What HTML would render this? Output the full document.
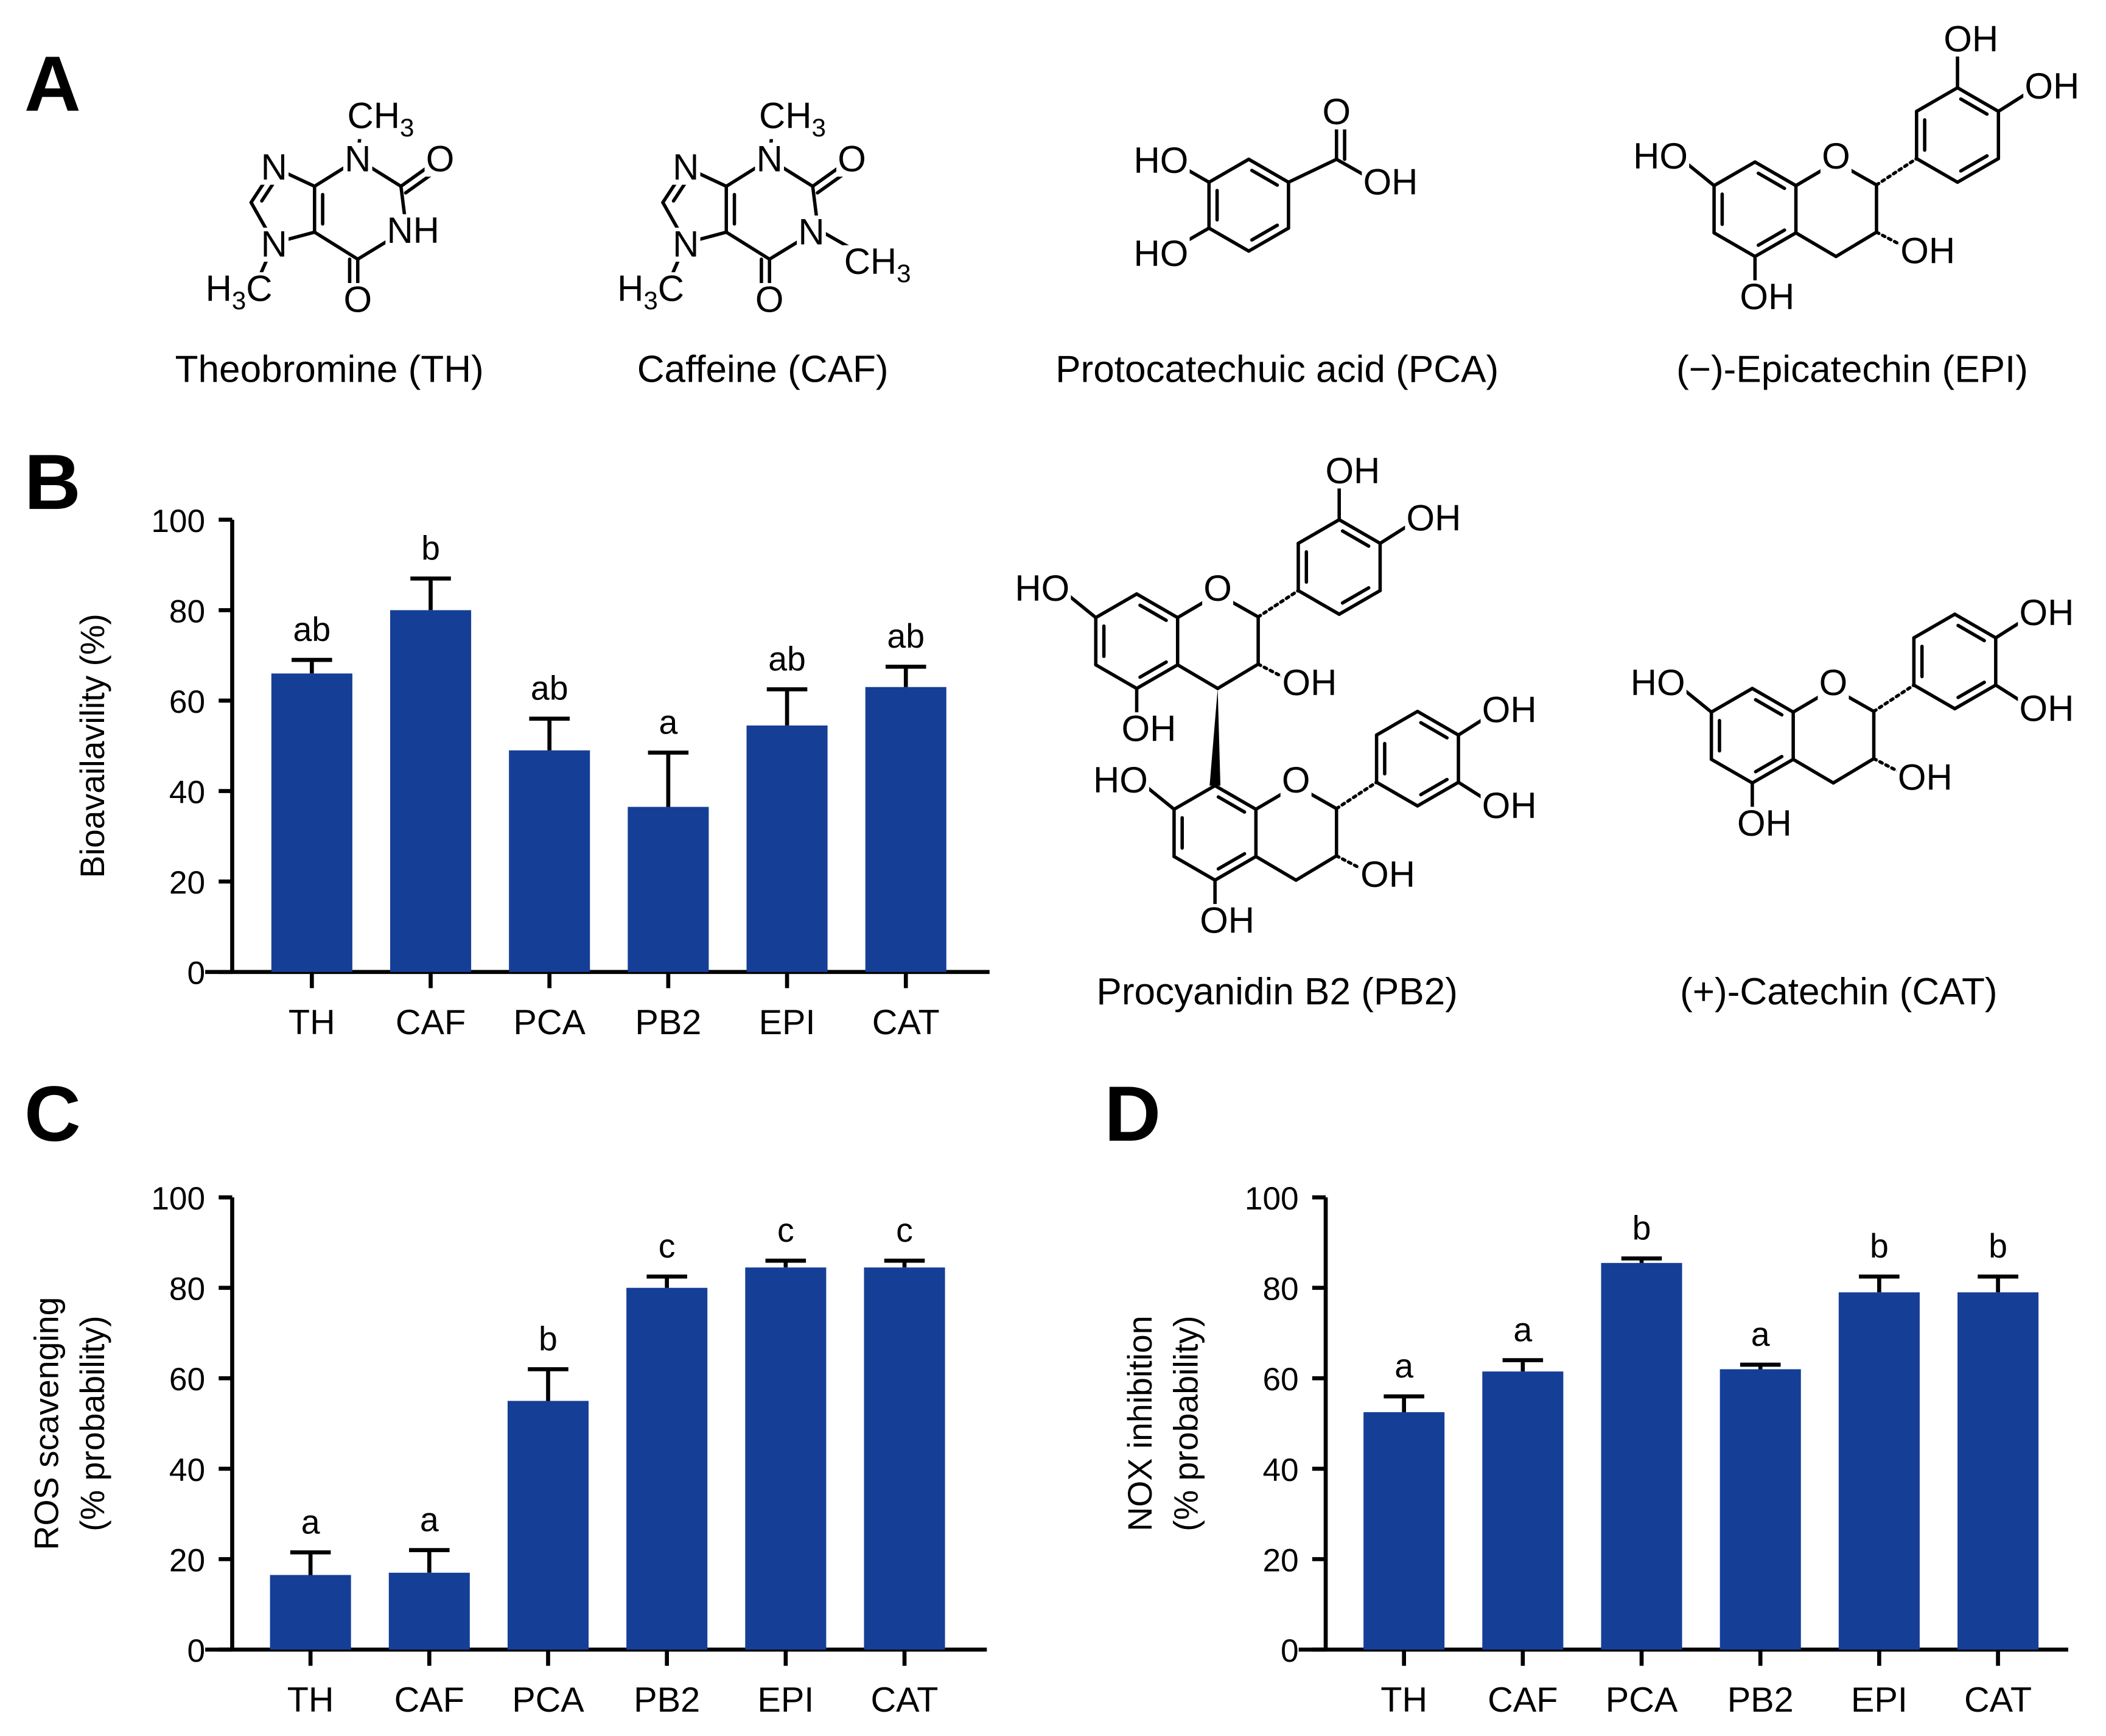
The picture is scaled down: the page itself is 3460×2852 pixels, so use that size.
<!DOCTYPE html>
<html><head><meta charset="utf-8"><style>
html,body{margin:0;padding:0;background:#fff}
svg{display:block}
text{font-family:"Liberation Sans",Arial,sans-serif;fill:#000}
.lbl{font-size:27px}
.sub{font-size:19px}
.nm{font-size:28px}
.pl{font-size:58px;font-weight:bold}
.tk{font-size:24px}
.cat{font-size:26px}
.let{font-size:25px}
.ttl{font-size:25px}
</style></head><body>
<svg id="fig" width="3460" height="2852" viewBox="0 0 1560 1286" preserveAspectRatio="none" xmlns="http://www.w3.org/2000/svg">
<rect width="1560" height="1286" fill="#fff"/>
<text class="pl" x="18" y="82">A</text>
<text class="pl" x="18" y="377">B</text>
<text class="pl" x="18" y="845">C</text>
<text class="pl" x="818" y="845">D</text>
<g id="chem" stroke="#000" stroke-width="2.5" fill="none" stroke-linecap="round"></g>
<g id="chembg"></g>
<g id="chemtext"></g>
<text class="nm" x="244" y="283" text-anchor="middle">Theobromine (TH)</text>
<text class="nm" x="565" y="283" text-anchor="middle">Caffeine (CAF)</text>
<text class="nm" x="946" y="283" text-anchor="middle">Protocatechuic acid (PCA)</text>
<text class="nm" x="1372" y="283" text-anchor="middle">(−)-Epicatechin (EPI)</text>
<text class="nm" x="946" y="744" text-anchor="middle">Procyanidin B2 (PB2)</text>
<text class="nm" x="1362" y="744" text-anchor="middle">(+)-Catechin (CAT)</text>
<g id="charts"></g>
</svg>
<script>
const categories=["TH","CAF","PCA","PB2","EPI","CAT"];
const bioValues=[66,80,49,36.5,54.5,63];
const bioErrors=[3,7,7,12,8,4.5];
const bioLetters=["ab","b","ab","a","ab","ab"];
const rosValues=[16.5,17,55,80,84.5,84.5];
const rosErrors=[5,5,7,2.5,1.5,1.5];
const rosLetters=["a","a","b","c","c","c"];
const noxValues=[52.5,61.5,85.5,62,79,79];
const noxErrors=[3.5,2.5,1,1,3.5,3.5];
const noxLetters=["a","a","b","a","b","b"];
const yTicks=[0,20,40,60,80,100];

const NS="http://www.w3.org/2000/svg";
const chem=document.getElementById('chem'), ct=document.getElementById('chemtext'), bg=document.getElementById('chembg'), charts=document.getElementById('charts');
function mk(tag,attrs,parent){const e=document.createElementNS(NS,tag);for(const k in attrs)e.setAttribute(k,attrs[k]);parent.appendChild(e);return e;}
function bond(a,b,opt){const l=mk('line',{x1:a[0],y1:a[1],x2:b[0],y2:b[1]},chem);


if(opt==='hash'){l.setAttribute('stroke-dasharray','2 3');l.setAttribute('stroke-width','2.4');}
if(opt==='dbl'){const dx=b[0]-a[0],dy=b[1]-a[1],L=Math.hypot(dx,dy),nx=-dy/L*6,ny=dx/L*6;
 const l2=mk('line',{x1:a[0]+nx,y1:a[1]+ny,x2:b[0]+nx,y2:b[1]+ny},chem);
 
 }
}
function inner(a,b,c){
 const dx=b[0]-a[0],dy=b[1]-a[1];const mx=(a[0]+b[0])/2-c[0],my=(a[1]+b[1])/2-c[1];const L=Math.hypot(mx,my);
 const ox=-mx/L*6,oy=-my/L*6;const l=mk('line',{x1:a[0]+dx*.18+ox,y1:a[1]+dy*.18+oy,x2:b[0]-dx*.18+ox,y2:b[1]-dy*.18+oy},chem);
 
 }
function lab(t,x,y,sub,after){const e=mk('text',{x:x,y:y+10,'text-anchor':'middle','class':'lbl'},ct);
 
 
 e.appendChild(document.createTextNode(t));
 if(sub){const s=mk('tspan',{'class':'sub',dy:6},e);s.textContent=sub;}
 if(after){const s2=mk('tspan',{dy:-6},e);s2.textContent=after;}
 const bb=e.getBBox();const r=mk('rect',{x:bb.x-1,y:bb.y+3,width:bb.width+2,height:bb.height-5,fill:'#fff'},bg);
 
 
}
function hex(cx,cy,r){const v=[];for(let i=0;i<6;i++){const a=-Math.PI/2+i*Math.PI/3;v.push([cx+r*Math.cos(a),cy+r*Math.sin(a)]);}return v;}
function ring(v,dbl,c){for(let i=0;i<6;i++){bond(v[i],v[(i+1)%6]);if(dbl.includes(i))inner(v[i],v[(i+1)%6],c);}}

function purine(dx,caf){
 const P=(x,y)=>[x+dx,y];
 const N3=P(265,118),C2=P(297,138),O2=P(325,118),N1=P(301,170),C6=P(265,192),O6=P(265,222),C5=P(233,172),C4=P(233,138),N9=P(203,124),C8=P(186,150),N7=P(203,180),Me7=P(190,210),Me3=P(268,85);
 bond(N3,C4);bond(N3,C2);bond(C2,O2,'dbl');bond(C2,N1);bond(N1,C6);bond(C6,O6,'dbl');bond(C6,C5);bond(C5,C4);inner(C5,C4,P(260,155));
 bond(C4,N9);bond(N9,C8);inner(N9,C8,P(215,152));bond(C8,N7);bond(N7,C5);bond(N7,Me7);bond(N3,Me3);
 lab('CH',282+dx,85,'3');lab('N',265+dx,117);lab('O',326+dx,117);lab('O',265+dx,221);lab('N',203+dx,123);lab('N',203+dx,180);lab('H',177+dx,213,'3','C');
 if(caf){lab('N',601,171);bond(N1,P(336,190));lab('CH',650,193,'3');}else lab('NH',306,170);
}
purine(0,false);purine(305,true);
{const c=[925,152],v=hex(925,152,34);ring(v,[0,2,4],c);
 const co=[990,118];bond(v[1],co);bond(co,[990,88],'dbl');bond(co,[1020,135]);
 bond(v[5],[866,118]);bond(v[4],[866,186]);
 lab('O',990,82);lab('OH',1030,134);lab('HO',860,118);lab('HO',860,187);}
function flavan(cx,cy,mode){
 const r=35,A=hex(cx,cy,r),c=[cx,cy];ring(A,[0,2,4],c);
 const O=[cx+60,cy-35],C2=[cx+90,cy-18],C3=[cx+90,cy+17],C4=[cx+60,cy+35];
 bond(A[1],O);bond(O,C2);bond(C2,C3);bond(C3,C4);bond(C4,A[2]);
 bond(A[5],[cx-58,cy-40]);lab('HO',cx-70,cy-40);
 bond(A[3],[cx,cy+62]);lab('OH',cx+9,cy+64);
 bond(C3,[cx+115,cy+30],'hash');lab('OH',cx+128,cy+30);
 lab('O',cx+60,cy-40);
 const bx=cx+150,by=cy-55,B=hex(bx,by,35);ring(B,[0,2,4],[bx,by]);
 bond(C2,B[4],'hash');
 if(mode==='epi'){bond(B[0],[bx,by-62]);lab('OH',bx+10,by-72);bond(B[1],[bx+50,by-30]);lab('OH',bx+70,by-37);}
 else{bond(B[1],[bx+50,by-30]);lab('OH',bx+68,by-37);bond(B[2],[bx+50,by+30]);lab('OH',bx+68,by+34);}
 return {C4:C4,Atop:A[0]};
}
flavan(1300,155,'epi');
flavan(1298,545,'cat');
const up=flavan(842,475,'epi');
const lo=flavan(900,617,'cat');
mk('polygon',{points:`${up.C4[0]},${up.C4[1]} ${lo.Atop[0]-4},${lo.Atop[1]} ${lo.Atop[0]+4},${lo.Atop[1]}`,fill:'#000',stroke:'none'},chem);

function chart(cfg){
 const g=mk('g',{},charts);
 
 
 const x0=cfg.ax,y0=cfg.y0,y1=cfg.y100,sx=v=>y0+(y1-y0)*v/100,cx=i=>cfg.c0+i*88;
 const ax=mk('path',{d:`M${x0} ${y1} V${y0} M${x0-20} ${y0} H${cfg.xEnd}`,stroke:'#000','stroke-width':3,fill:'none'},g);
 
 
 yTicks.forEach(t=>{const l=mk('line',{x1:x0-10,x2:x0,y1:sx(t),y2:sx(t),stroke:'#000','stroke-width':3},g);
  
  
  const tx=mk('text',{x:x0-20,y:sx(t)+9,'text-anchor':'end','class':'tk'},g);tx.textContent=t;
  
  });
 categories.forEach((c,i)=>{
  const v=cfg.vals[i],e=cfg.errs[i],x=cx(i);
  const b=mk('rect',{x:x-30,y:sx(v),width:60,height:y0-sx(v),fill:'#153f97'},g);
  
  
  const eb=mk('path',{d:`M${x} ${sx(v)} V${sx(v+e)} M${x-15} ${sx(v+e)} H${x+15}`,stroke:'#000','stroke-width':3,fill:'none'},g);
  
  
  const lt=mk('text',{x:x,y:sx(v+e)-14,'text-anchor':'middle','class':'let'},g);lt.textContent=cfg.lets[i];
  
  
  const tk=mk('line',{x1:x,x2:x,y1:y0,y2:y0+12,stroke:'#000','stroke-width':3},g);
  
  
  const cl=mk('text',{x:x,y:y0+46,'text-anchor':'middle','class':'cat'},g);cl.textContent=c;
  
  
 });
 cfg.title.forEach((t,k)=>{const tx=mk('text',{x:0,y:0,'text-anchor':'middle','class':'ttl',transform:`translate(${cfg.tx[k]},${(y0+y1)/2}) rotate(-90)`},g);tx.textContent=t;
  
  });
}
chart({name:'bioavailability-chart',ax:172,y0:720,y100:385,c0:231,xEnd:733,vals:bioValues,errs:bioErrors,lets:bioLetters,title:['Bioavailavility (%)'],tx:[77]});
chart({name:'ros-scavenging-chart',ax:172,y0:1222,y100:887,c0:230,xEnd:731,vals:rosValues,errs:rosErrors,lets:rosLetters,title:['ROS scavenging','(% probability)'],tx:[43,77]});
chart({name:'nox-inhibition-chart',ax:982,y0:1222,y100:887,c0:1040,xEnd:1532,vals:noxValues,errs:noxErrors,lets:noxLetters,title:['NOX inhibition','(% probability)'],tx:[853,887]});
</script>
</body></html>
